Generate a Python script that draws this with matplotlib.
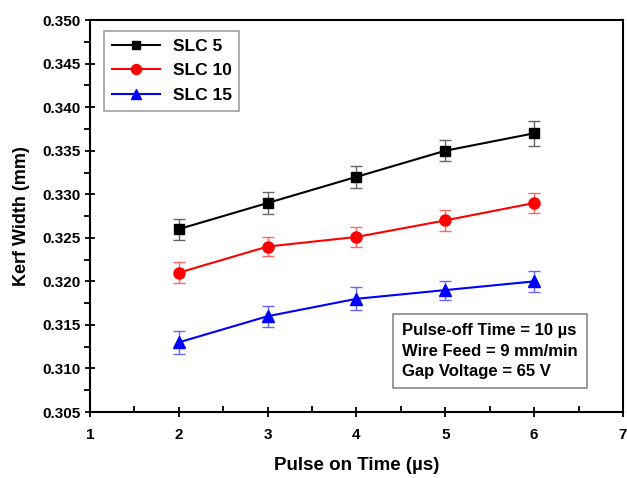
import numpy as np
import matplotlib.pyplot as plt
from matplotlib.ticker import MultipleLocator

plt.rcParams['font.family'] = ['Liberation Sans', 'DejaVu Sans']
plt.rcParams['font.weight'] = 'bold'

pulse_on = [2, 3, 4, 5, 6]
slc5 = [0.326, 0.329, 0.332, 0.335, 0.337]
slc10 = [0.321, 0.324, 0.3251, 0.327, 0.329]
slc15 = [0.313, 0.316, 0.318, 0.319, 0.320]
err5 = [0.0012, 0.0013, 0.0013, 0.0012, 0.0014]
err10 = [0.0012, 0.0011, 0.0011, 0.0012, 0.0012]
err15 = [0.0013, 0.0012, 0.0013, 0.0011, 0.0012]

fig = plt.figure(figsize=(6.27, 4.78), dpi=100)
ax = fig.add_axes([0.1435, 0.138, 0.850, 0.82])

series = [
    ("SLC 5", slc5, err5, 'black', '#666666', 's', 7),
    ("SLC 10", slc10, err10, 'red', '#ff6666', 'o', 8),
    ("SLC 15", slc15, err15, 'blue', '#6666ff', '^', 8),
]
for label, y, e, col, ecol, mk, ms in series:
    ax.errorbar(pulse_on, y, yerr=e, fmt='none', ecolor=ecol, elinewidth=1.0,
                capsize=4, capthick=1.0)
    ax.plot(pulse_on, y, color=col, marker=mk, markersize=ms, lw=1.5, label=label)

ax.set_xlim(1, 7)
ax.set_ylim(0.305, 0.350)
ax.xaxis.set_major_locator(MultipleLocator(1))
ax.xaxis.set_minor_locator(MultipleLocator(0.5))
ax.yaxis.set_major_locator(MultipleLocator(0.005))
ax.yaxis.set_minor_locator(MultipleLocator(0.0025))
ax.yaxis.set_major_formatter(plt.FormatStrFormatter('%.3f'))
ax.tick_params(axis='both', which='major', direction='inout', length=7, width=1.3, labelsize=11)
ax.tick_params(axis='x', which='major', pad=8)
ax.tick_params(axis='x', which='minor', direction='in', length=4, width=1.3)
ax.tick_params(axis='y', which='minor', direction='out', length=4, width=1.3)
for lab in ax.get_xticklabels() + ax.get_yticklabels():
    lab.set_fontweight('bold')
for s in ax.spines.values():
    s.set_linewidth(1.5)

ax.set_xlabel("Pulse on Time (\u00b5s)", fontsize=13.5, fontweight='bold', labelpad=11)
ax.set_ylabel("Kerf Width (mm)", fontsize=13, fontweight='bold', labelpad=9)

leg = ax.legend(loc='upper left', bbox_to_anchor=(0.01, 0.995),
                handlelength=2.8, fancybox=False, edgecolor='#888888',
                prop={'weight': 'bold', 'size': 12.5}, borderpad=0.45,
                labelspacing=0.55, handletextpad=0.7, markerscale=0.9)
leg.get_frame().set_linewidth(1.2)

ax.text(0.585, 0.155, "Pulse-off Time = 10 \u00b5s\nWire Feed = 9 mm/min\nGap Voltage = 65 V",
        transform=ax.transAxes, fontsize=12, fontweight='bold', linespacing=1.45,
        va='center', ha='left',
        bbox=dict(boxstyle='square,pad=0.55', fc='white', ec='#888888', lw=1.2))

fig.savefig('out.png', dpi=100)
